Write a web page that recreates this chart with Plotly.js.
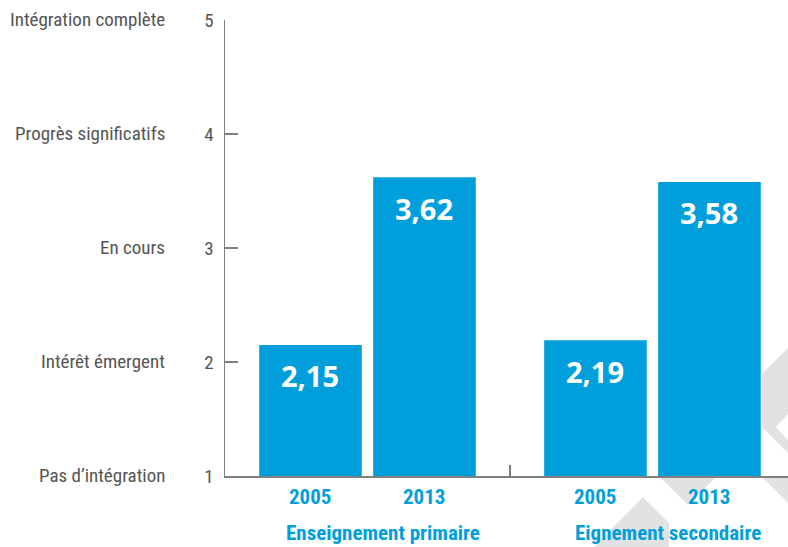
<!DOCTYPE html>
<html>
<head>
<meta charset="utf-8">
<script src="https://cdn.plot.ly/plotly-3.0.1.min.js"></script>
<style>
  html, body { margin: 0; padding: 0; background: #ffffff; }
  #chart { width: 788px; height: 547px; }
</style>
</head>
<body>
<div id="chart"></div>
<script>
// ---- Data ----
var groups = ["Enseignement primaire", "Eignement secondaire"];
var years = ["2005", "2013"];
var primaryValues = [2.15, 3.62];
var secondaryValues = [2.19, 3.58];
var levelValues = [1, 2, 3, 4, 5];
var levelLabels = ["Pas d\u2019intégration", "Intérêt émergent", "En cours", "Progrès significatifs", "Intégration complète"];

// ---- Styling constants ----
var BLUE = "#009fdb";
var GREY_TXT = "#555555";
var AXIS = "#808080";
var narrow = "Roboto Condensed, DejaVu Sans Condensed, sans-serif";
var groupGap = 2.5;   // distance (in bar units) between the starts of the two groups
var barWidth = 0.9;

var seriesByGroup = [primaryValues, secondaryValues];
var xs = [], ys = [];
seriesByGroup.forEach(function (vals, g) {
  vals.forEach(function (v, i) { xs.push(g * groupGap + i); ys.push(v); });
});

var traces = [{
  type: "bar",
  x: xs,
  y: ys,
  width: barWidth,
  marker: { color: BLUE, line: { width: 0 } },
  hoverinfo: "skip",
  showlegend: false
}];

var annotations = [];
xs.forEach(function (x, k) {
  // value labels inside bars
  annotations.push({
    x: x, y: ys[k], xref: "x", yref: "y",
    text: ys[k].toFixed(2).replace(".", ","),
    showarrow: false, yanchor: "middle", xanchor: "center", yshift: -31,
    font: { family: "Open Sans, Noto Sans, sans-serif", size: 29, color: "#ffffff", weight: 700 }
  });
  // year labels under bars
  annotations.push({
    x: x, y: 0, xref: "x", yref: "paper",
    text: "<b>" + years[k % years.length] + "</b>",
    showarrow: false, yanchor: "middle", xanchor: "center", yshift: -21,
    font: { family: narrow, size: 21, color: BLUE }
  });
});
// group labels
groups.forEach(function (name, g) {
  annotations.push({
    x: g * groupGap + 0.5, y: 0, xref: "x", yref: "paper",
    text: "<b>" + name + "</b>",
    showarrow: false, yanchor: "middle", xanchor: "center", yshift: -57, xshift: 16,
    font: { family: narrow, size: 21, color: BLUE }
  });
});
// level labels on the left
levelValues.forEach(function (v, i) {
  annotations.push({
    x: -0.103, y: v, xref: "paper", yref: "y",
    text: levelLabels[i],
    showarrow: false, xanchor: "right", yanchor: "middle", yshift: 1,
    font: { family: narrow, size: 19, color: GREY_TXT }
  });
});

// light grey watermark pieces (pixel -> paper conversion)
function P(px, py) { return [((px - 225) / 563).toFixed(4), ((476 - py) / 456).toFixed(4)]; }
function path(pts) {
  return "M" + pts.map(function (p) { var q = P(p[0], p[1]); return q[0] + "," + q[1]; }).join(" L") + " Z";
}
var wm = "#e2e2e2";
var shapes = [
  [[788, 348], [762, 374], [762, 427], [788, 453], [788, 440], [776, 427], [788, 414]],
  [[660, 477], [716, 477], [688, 505]],
  [[762, 477], [788, 477], [788, 503]],
  [[643, 497], [669, 523], [669, 547], [594, 547]]
].map(function (pts) {
  return { type: "path", xref: "paper", yref: "paper", path: path(pts), fillcolor: wm, line: { width: 0 }, layer: "below" };
});

var layout = {
  width: 788, height: 547,
  margin: { l: 225, r: 0, t: 20, b: 71, pad: 0 },
  paper_bgcolor: "#ffffff",
  plot_bgcolor: "rgba(0,0,0,0)",
  showlegend: false,
  xaxis: {
    range: [-0.75, 4.189],
    showgrid: false, zeroline: false,
    showline: true, linecolor: AXIS, linewidth: 1.5,
    tickmode: "array", tickvals: [(1 + groupGap) / 2], ticktext: [""],
    ticks: "inside", ticklen: 11, tickwidth: 1.2, tickcolor: AXIS,
    showticklabels: false, fixedrange: true
  },
  yaxis: {
    range: [1, 5],
    showgrid: false, zeroline: false,
    showline: true, linecolor: AXIS, linewidth: 1.5,
    tickmode: "array", tickvals: levelValues, ticktext: levelValues.map(String),
    ticks: "inside", ticklen: 13, tickwidth: 1.2, tickcolor: AXIS,
    ticklabelstandoff: 6,
    tickfont: { family: narrow, size: 19, color: GREY_TXT },
    fixedrange: true
  },
  annotations: annotations,
  shapes: shapes
};

Plotly.newPlot("chart", traces, layout, { displayModeBar: false, staticPlot: true });
</script>
</body>
</html>
